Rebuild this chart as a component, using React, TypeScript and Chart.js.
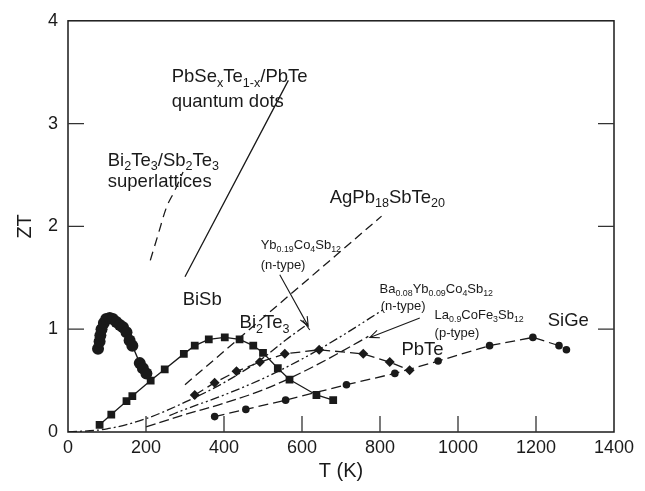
import React, { useEffect, useRef } from 'react';
import { Chart, registerables } from 'chart.js';
Chart.register(...registerables);

// ---- axis ----
const xTickValues = [0, 200, 400, 600, 800, 1000, 1200, 1400];
const yTickValues = [0, 1, 2, 3, 4];

// ---- series with markers ----
const bisbT = [77, 81, 83, 86, 92, 98, 107, 115, 124, 133, 141, 150, 158, 165, 184, 192, 201];
const bisbZT = [0.81, 0.88, 0.94, 1.0, 1.06, 1.1, 1.11, 1.1, 1.07, 1.04, 1.02, 0.97, 0.89, 0.84, 0.67, 0.62, 0.57];

const bi2te3T = [81, 111, 150, 165, 212, 248, 297, 325, 361, 402, 440, 475, 500, 538, 568, 637, 680];
const bi2te3ZT = [0.07, 0.17, 0.3, 0.35, 0.5, 0.61, 0.76, 0.84, 0.9, 0.92, 0.9, 0.84, 0.77, 0.62, 0.51, 0.36, 0.31];

const pbteT = [325, 376, 432, 492, 556, 644, 757, 825, 876];
const pbteZT = [0.36, 0.48, 0.59, 0.68, 0.76, 0.8, 0.76, 0.68, 0.6];

const sigeT = [376, 456, 558, 714, 838, 949, 1081, 1192, 1259, 1278];
const sigeZT = [0.15, 0.22, 0.31, 0.46, 0.57, 0.69, 0.84, 0.92, 0.84, 0.8];

// ---- curves without markers ----
const slT = [211, 231, 252, 274, 295];
const slZT = [1.67, 1.92, 2.18, 2.35, 2.53];

const qdT = [300, 565];
const qdZT = [1.51, 3.42];

const agT = [300, 543, 804];
const agZT = [0.46, 1.25, 2.1];

const ybT = [0, 100, 200, 300, 400, 500, 560, 611];
const ybZT = [0, 0.03, 0.13, 0.29, 0.48, 0.72, 0.9, 1.04];

const baT = [260, 300, 400, 500, 600, 700, 808];
const baZT = [0.16, 0.22, 0.36, 0.52, 0.71, 0.93, 1.19];

const laT = [200, 300, 400, 500, 600, 700, 770];
const laZT = [0.05, 0.17, 0.28, 0.41, 0.58, 0.78, 0.93];

// ---- annotation labels: [text, isSubscript] parts ----
type Part = [string, boolean];
const labelParts: Part[][] = [
  [['PbSe', false], ['x', true], ['Te', false], ['1-x', true], ['/PbTe', false]],
  [['quantum dots', false]],
  [['Bi', false], ['2', true], ['Te', false], ['3', true], ['/Sb', false], ['2', true], ['Te', false], ['3', true]],
  [['superlattices', false]],
  [['AgPb', false], ['18', true], ['SbTe', false], ['20', true]],
  [['BiSb', false]],
  [['Bi', false], ['2', true], ['Te', false], ['3', true]],
  [['Yb', false], ['0.19', true], ['Co', false], ['4', true], ['Sb', false], ['12', true]],
  [['(n-type)', false]],
  [['Ba', false], ['0.08', true], ['Yb', false], ['0.09', true], ['Co', false], ['4', true], ['Sb', false], ['12', true]],
  [['(n-type)', false]],
  [['La', false], ['0.9', true], ['CoFe', false], ['3', true], ['Sb', false], ['12', true]],
  [['(p-type)', false]],
  [['PbTe', false]],
  [['SiGe', false]],
];
const labelT = [266, 266, 102, 102, 671, 294, 440, 494, 494, 799, 802, 940, 940, 855, 1230];
const labelZT = [3.4, 3.16, 2.59, 2.38, 2.23, 1.24, 1.01, 1.78, 1.59, 1.35, 1.19, 1.1, 0.92, 0.75, 1.03];
const labelSize = [18.5, 18.5, 18.5, 18.5, 18.5, 18.5, 18.5, 13, 13, 13, 13, 13, 13, 18.5, 18.5];

// arrows: from (T,ZT) to (T,ZT)
const arrowFromT = [543, 902];
const arrowFromZT = [1.53, 1.11];
const arrowToT = [616, 774];
const arrowToZT = [1.03, 0.92];

const FONT = '"Liberation Sans", Arial, Helvetica, sans-serif';
const INK = '#1a1a1a';

const zip = (xs: number[], ys: number[]) => xs.map((x, i) => ({ x, y: ys[i] }));

const decorPlugin = {
  id: 'decor',
  afterDraw(chart: any) {
    const { ctx, chartArea: a, scales } = chart;
    const xs = scales.x;
    const ys = scales.y;
    ctx.save();
    // frame
    ctx.strokeStyle = INK;
    ctx.lineWidth = 1.5;
    ctx.strokeRect(a.left, a.top, a.right - a.left, a.bottom - a.top);
    // inward ticks
    const tl = 16;
    ctx.lineWidth = 1.3;
    ctx.strokeStyle = '#333';
    ctx.beginPath();
    xTickValues.slice(1, -1).forEach((v) => {
      const px = xs.getPixelForValue(v);
      ctx.moveTo(px, a.bottom);
      ctx.lineTo(px, a.bottom - tl);
    });
    yTickValues.slice(1, -1).forEach((v) => {
      const py = ys.getPixelForValue(v);
      ctx.moveTo(a.left, py);
      ctx.lineTo(a.left + tl, py);
      ctx.moveTo(a.right, py);
      ctx.lineTo(a.right - tl, py);
    });
    ctx.stroke();

    // axis titles
    ctx.fillStyle = INK;
    ctx.font = `20px ${FONT}`;
    ctx.textAlign = 'center';
    ctx.textBaseline = 'middle';
    ctx.fillText('T (K)', (a.left + a.right) / 2, 471);
    ctx.save();
    ctx.translate(25, (a.top + a.bottom) / 2);
    ctx.rotate(-Math.PI / 2);
    ctx.fillText('ZT', 0, 0);
    ctx.restore();

    // labels
    ctx.textAlign = 'left';
    ctx.textBaseline = 'alphabetic';
    labelParts.forEach((parts, i) => {
      let cx = xs.getPixelForValue(labelT[i]);
      const by = ys.getPixelForValue(labelZT[i]);
      const size = labelSize[i];
      parts.forEach(([t, sub]) => {
        const fs = sub ? size * 0.68 : size;
        ctx.font = `${fs}px ${FONT}`;
        ctx.fillText(t, cx, sub ? by + size * 0.25 : by);
        cx += ctx.measureText(t).width;
      });
    });

    // arrows
    ctx.strokeStyle = INK;
    ctx.lineWidth = 1.1;
    arrowFromT.forEach((_, i) => {
      const x1 = xs.getPixelForValue(arrowFromT[i]);
      const y1 = ys.getPixelForValue(arrowFromZT[i]);
      const x2 = xs.getPixelForValue(arrowToT[i]);
      const y2 = ys.getPixelForValue(arrowToZT[i]);
      const ang = Math.atan2(y2 - y1, x2 - x1);
      const hl = 10;
      ctx.beginPath();
      ctx.moveTo(x1, y1);
      ctx.lineTo(x2, y2);
      ctx.moveTo(x2 - hl * Math.cos(ang - 0.4), y2 - hl * Math.sin(ang - 0.4));
      ctx.lineTo(x2, y2);
      ctx.lineTo(x2 - hl * Math.cos(ang + 0.4), y2 - hl * Math.sin(ang + 0.4));
      ctx.stroke();
    });
    // end bar of Yb curve
    const n = ybT.length;
    const ex = xs.getPixelForValue(ybT[n - 1]);
    const ey = ys.getPixelForValue(ybZT[n - 1]);
    const px = xs.getPixelForValue(ybT[n - 2]);
    const py = ys.getPixelForValue(ybZT[n - 2]);
    const ang = Math.atan2(ey - py, ex - px) + Math.PI / 2;
    ctx.beginPath();
    ctx.moveTo(ex + 6 * Math.cos(ang), ey + 6 * Math.sin(ang));
    ctx.lineTo(ex - 6 * Math.cos(ang), ey - 6 * Math.sin(ang));
    ctx.stroke();
    ctx.restore();
  },
};

export default function App() {
  const ref = useRef<HTMLCanvasElement | null>(null);
  useEffect(() => {
    if (!ref.current) return;
    const marker = (style: string, r: number, data: any, dash: number[], extra: any = {}) => ({
      data,
      showLine: true,
      borderColor: INK,
      backgroundColor: INK,
      borderWidth: 1.3,
      borderDash: dash,
      pointStyle: style,
      pointRadius: r,
      pointBorderWidth: 0,
      pointBackgroundColor: INK,
      tension: 0,
      ...extra,
    });
    const curve = (data: any, dash: number[], tension = 0.3) => ({
      data,
      showLine: true,
      borderColor: INK,
      borderWidth: 1.3,
      borderDash: dash,
      pointRadius: 0,
      tension,
      cubicInterpolationMode: 'monotone',
    });
    const chart = new Chart(ref.current, {
      type: 'scatter',
      data: {
        datasets: [
          curve(zip(slT, slZT), [9, 6]),
          curve(zip(qdT, qdZT), []),
          curve(zip(agT, agZT), [9, 5]),
          curve(zip(ybT, ybZT), [9, 3, 2, 3]),
          curve(zip(baT, baZT), [9, 3, 2, 3, 2, 3]),
          curve(zip(laT, laZT), [10, 4]),
          marker('circle', 6, zip(bisbT, bisbZT), []),
          marker('rect', 5.5, zip(bi2te3T, bi2te3ZT), []),
          marker('rectRot', 5, zip(pbteT, pbteZT), [10, 5]),
          marker('circle', 3.8, zip(sigeT, sigeZT), [10, 5]),
        ] as any,
      },
      options: {
        animation: false,
        responsive: false,
        devicePixelRatio: 1,
        layout: { padding: { top: 12, right: 31, left: 0, bottom: 0 } },
        plugins: { legend: { display: false }, tooltip: { enabled: false } },
        scales: {
          x: {
            type: 'linear',
            min: 0,
            max: 1400,
            grid: { display: false, drawTicks: false },
            border: { display: false },
            ticks: {
              stepSize: 200,
              color: INK,
              padding: 5,
              font: { size: 18, family: FONT },
              maxRotation: 0,
              callback: (v: any) => String(v),
            },
            afterFit: (s: any) => { s.height = 59; },
          },
          y: {
            type: 'linear',
            min: 0,
            max: 4,
            grid: { display: false, drawTicks: false },
            border: { display: false },
            ticks: {
              stepSize: 1,
              color: INK,
              padding: 10,
              font: { size: 18, family: FONT },
              callback: (v: any) => String(v),
            },
            afterFit: (s: any) => { s.width = 68; },
          },
        },
      } as any,
      plugins: [decorPlugin],
    });
    return () => chart.destroy();
  }, []);
  return (
    <div style={{ position: 'fixed', left: 0, top: 0, width: 645, height: 491, background: '#fff' }}>
      <canvas ref={ref} width={645} height={491} style={{ display: 'block' }} />
    </div>
  );
}
